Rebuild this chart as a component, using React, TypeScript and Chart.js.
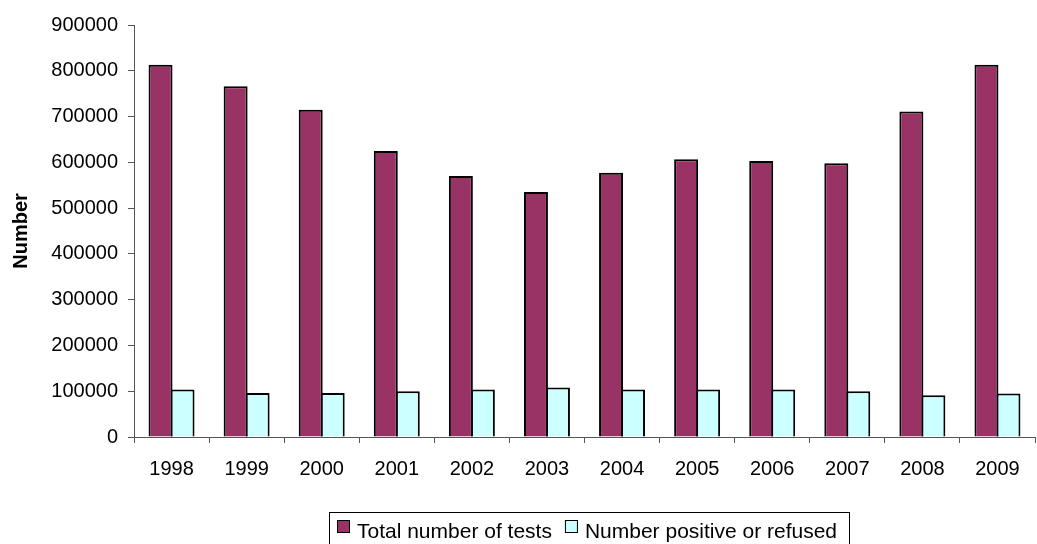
import React, { useEffect, useRef } from "react";
import { Chart, registerables } from "chart.js";

Chart.register(...registerables);

const years = ["1998", "1999", "2000", "2001", "2002", "2003", "2004", "2005", "2006", "2007", "2008", "2009"];
const totalTests = [813000, 766000, 715000, 625000, 570000, 535000, 577000, 607000, 603000, 598000, 711000, 813000];
const positiveOrRefused = [104000, 96000, 96000, 100000, 104000, 108000, 104000, 104000, 104000, 100000, 91000, 95000];
const yMin = 0;
const yMax = 900000;
const yStep = 100000;
const seriesLabels = ["Total number of tests", "Number positive or refused"];
const yTitle = "Number";

const FONT = "'Liberation Sans', Arial, sans-serif";
const LEGEND_CENTER_X = 589.5;

const customLegend = {
  id: "customLegend",
  afterDraw(chart: any) {
    const ctx = chart.ctx;
    ctx.save();
    ctx.font = `21px ${FONT}`;
    const items = chart.data.datasets.map((ds: any) => ({
      label: ds.label as string,
      color: ds.backgroundColor as string,
      w: ctx.measureText(ds.label).width,
    }));
    const box = 13;
    const gapBoxText = 7;
    const gapItems = 13;
    const padL = 8;
    const padR = 12;
    const content =
      items.reduce((s: number, it: any) => s + box + gapBoxText + it.w, 0) + gapItems * (items.length - 1);
    const total = padL + content + padR;
    const left = Math.round(LEGEND_CENTER_X - total / 2);
    const top = Math.round(chart.chartArea.bottom + 75);
    ctx.strokeStyle = "#000";
    ctx.lineWidth = 1;
    ctx.strokeRect(left + 0.5, top + 0.5, Math.round(total), 60);
    let x = left + padL;
    ctx.fillStyle = "#000";
    ctx.textBaseline = "alphabetic";
    ctx.textAlign = "left";
    items.forEach((it: any) => {
      ctx.fillStyle = it.color;
      ctx.fillRect(x, top + 8, box, box);
      ctx.strokeStyle = "#000";
      ctx.strokeRect(x + 0.5, top + 8.5, box - 1, box - 1);
      ctx.fillStyle = "#000";
      ctx.fillText(it.label, x + box + gapBoxText, top + 26);
      x += box + gapBoxText + it.w + gapItems;
    });
    ctx.restore();
  },
};

export default function App() {
  const ref = useRef<HTMLCanvasElement | null>(null);

  useEffect(() => {
    document.body.style.margin = "0";
    const canvas = ref.current;
    if (!canvas) return;
    const chart = new Chart(canvas, {
      type: "bar",
      data: {
        labels: years,
        datasets: [
          {
            label: seriesLabels[0],
            data: totalTests,
            backgroundColor: "#993366",
            borderColor: "#000000",
            borderWidth: 2,
            categoryPercentage: 0.586,
            barPercentage: 1.09,
          },
          {
            label: seriesLabels[1],
            data: positiveOrRefused,
            backgroundColor: "#CCFFFF",
            borderColor: "#000000",
            borderWidth: 2,
            categoryPercentage: 0.586,
            barPercentage: 1.09,
          },
        ],
      },
      options: {
        responsive: false,
        animation: false,
        devicePixelRatio: 1,
        layout: { padding: { left: 34, right: 2, top: 25, bottom: 37 } },
        font: { family: FONT },
        plugins: {
          tooltip: { enabled: false },
          legend: { display: false },
        },
        scales: {
          x: {
            afterFit: (s: any) => {
              s.height = 70;
            },
            grid: {
              display: true,
              drawOnChartArea: false,
              drawTicks: true,
              tickLength: 6,
              color: "#555",
              offset: true,
            },
            border: { display: true, color: "#555", width: 1 },
            ticks: {
              color: "#000",
              font: { family: FONT, size: 20 },
              padding: 14,
              maxRotation: 0,
            },
          },
          y: {
            min: yMin,
            max: yMax,
            afterFit: (s: any) => {
              s.width = 100;
            },
            grid: {
              display: true,
              drawOnChartArea: false,
              drawTicks: true,
              tickLength: 6,
              color: "#555",
            },
            border: { display: true, color: "#555", width: 1 },
            ticks: {
              stepSize: yStep,
              color: "#000",
              font: { family: FONT, size: 20 },
              padding: 10,
              callback: (v: any) => String(v),
            },
            title: {
              display: true,
              text: yTitle,
              color: "#000",
              font: { family: FONT, size: 20, weight: "bold" },
              padding: { top: -25, bottom: 0 },
            },
          },
        },
      },
      plugins: [customLegend],
    });
    return () => chart.destroy();
  }, []);

  return <canvas ref={ref} width={1037} height={544} style={{ display: "block", width: 1037, height: 544 }} />;
}
